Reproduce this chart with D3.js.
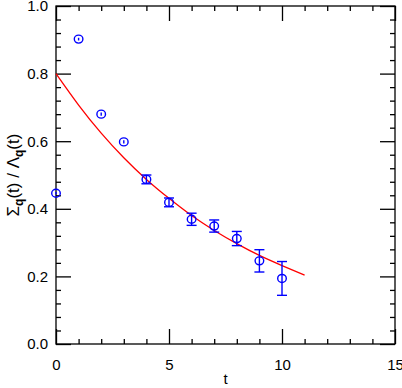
<!DOCTYPE html>
<html>
<head>
<meta charset="utf-8">
<script src="https://cdn.jsdelivr.net/npm/d3@7"></script>
<style>
  body { margin: 0; background: #fff; }
  svg { display: block; font-family: "Liberation Sans", Arial, sans-serif; }
</style>
</head>
<body>
<svg id="chart"></svg>
<script>
// data
var tValues = [0, 1, 2, 3, 4, 5, 6, 7, 8, 9, 10];
var ratio = [0.446, 0.902, 0.680, 0.598, 0.487, 0.419, 0.369, 0.349, 0.312, 0.246, 0.194];
var ratioErr = [0.004, 0.004, 0.005, 0.005, 0.013, 0.013, 0.018, 0.018, 0.021, 0.033, 0.050];

// fit curve
var fitT = [0, 1, 2, 3, 4, 5, 6, 7, 8, 9, 10, 11];
var fitValues = [0.800, 0.707, 0.624, 0.551, 0.487, 0.431, 0.380, 0.336, 0.297, 0.262, 0.232, 0.204];

var xTicks = [0, 5, 10, 15];
var xMinor = [1, 2, 3, 4, 6, 7, 8, 9, 11, 12, 13, 14];
var yTicks = [0.0, 0.2, 0.4, 0.6, 0.8, 1.0];
var yMinor = [0.04, 0.08, 0.12, 0.16, 0.24, 0.28, 0.32, 0.36, 0.44, 0.48, 0.52, 0.56,
              0.64, 0.68, 0.72, 0.76, 0.84, 0.88, 0.92, 0.96];

var width = 402, height = 388;
var margin = {top: 6, right: 7, bottom: 44, left: 56};

var svg = d3.select('svg#chart')
    .attr('width', width)
    .attr('height', height);

var x = d3.scaleLinear().domain([0, 15]).range([margin.left, width - margin.right]);
var y = d3.scaleLinear().domain([0, 1]).range([height - margin.bottom, margin.top]);

var fontSize = 15;

// frame
svg.append('rect')
    .attr('x', x(0))
    .attr('y', y(1))
    .attr('width', x(15) - x(0))
    .attr('height', y(0) - y(1))
    .attr('fill', 'none')
    .attr('stroke', '#000')
    .attr('stroke-width', 1.3);

function styleAxis(g) {
    g.select('.domain').remove();
    g.selectAll('line').attr('stroke', '#000').attr('stroke-width', 1.3);
    g.selectAll('text').attr('fill', '#000').style('font-size', fontSize + 'px');
}

// bottom
svg.append('g')
    .attr('transform', 'translate(0,' + y(0) + ')')
    .call(d3.axisBottom(x).tickValues(xTicks).tickFormat(d3.format('d')).tickSize(-15).tickPadding(15))
    .call(styleAxis);
svg.append('g')
    .attr('transform', 'translate(0,' + y(0) + ')')
    .call(d3.axisBottom(x).tickValues(xMinor).tickFormat('').tickSize(-5))
    .call(styleAxis);
// top
svg.append('g')
    .attr('transform', 'translate(0,' + y(1) + ')')
    .call(d3.axisTop(x).tickValues(xTicks).tickFormat('').tickSize(-15))
    .call(styleAxis);
svg.append('g')
    .attr('transform', 'translate(0,' + y(1) + ')')
    .call(d3.axisTop(x).tickValues(xMinor).tickFormat('').tickSize(-5))
    .call(styleAxis);
// left
svg.append('g')
    .attr('transform', 'translate(' + x(0) + ',0)')
    .call(d3.axisLeft(y).tickValues(yTicks).tickFormat(d3.format('.1f')).tickSize(-15).tickPadding(8))
    .call(styleAxis);
svg.append('g')
    .attr('transform', 'translate(' + x(0) + ',0)')
    .call(d3.axisLeft(y).tickValues(yMinor).tickFormat('').tickSize(-5))
    .call(styleAxis);
// right
svg.append('g')
    .attr('transform', 'translate(' + x(15) + ',0)')
    .call(d3.axisRight(y).tickValues(yTicks).tickFormat('').tickSize(-15))
    .call(styleAxis);
svg.append('g')
    .attr('transform', 'translate(' + x(15) + ',0)')
    .call(d3.axisRight(y).tickValues(yMinor).tickFormat('').tickSize(-5))
    .call(styleAxis);

// fit curve
var line = d3.line()
    .x(function (d, i) { return x(fitT[i]); })
    .y(function (d) { return y(d); })
    .curve(d3.curveNatural);

svg.append('path')
    .datum(fitValues)
    .attr('d', line)
    .attr('fill', 'none')
    .attr('stroke', '#ff0000')
    .attr('stroke-width', 1.3);

// data points with error bars
var pts = svg.append('g')
    .selectAll('g')
    .data(tValues)
    .enter()
    .append('g')
    .attr('stroke', '#0000ff')
    .attr('stroke-width', 1.4)
    .attr('fill', 'none');

pts.append('line')
    .attr('x1', function (d) { return x(d); })
    .attr('x2', function (d) { return x(d); })
    .attr('y1', function (d, i) { return y(ratio[i] + ratioErr[i]); })
    .attr('y2', function (d, i) { return y(ratio[i] - ratioErr[i]); });

pts.filter(function (d, i) { return ratioErr[i] > 0.01; })
    .each(function (d) {
        var i = tValues.indexOf(d);
        var g = d3.select(this);
        [ratio[i] + ratioErr[i], ratio[i] - ratioErr[i]].forEach(function (v) {
            g.append('line')
                .attr('x1', x(d) - 5)
                .attr('x2', x(d) + 5)
                .attr('y1', y(v))
                .attr('y2', y(v));
        });
    });

pts.append('ellipse')
    .attr('cx', function (d) { return x(d); })
    .attr('cy', function (d, i) { return y(ratio[i]); })
    .attr('rx', 4.3)
    .attr('ry', 4);

// axis titles
svg.append('text')
    .attr('x', (x(0) + x(15)) / 2)
    .attr('y', 384)
    .attr('text-anchor', 'middle')
    .style('font-size', fontSize + 'px')
    .text('t');

var ylab = svg.append('text')
    .attr('transform', 'translate(19,' + (y(0) + y(1)) / 2 + ') rotate(-90)')
    .attr('text-anchor', 'middle')
    .style('font-size', '17px');
ylab.append('tspan').text('Σ');
ylab.append('tspan').attr('dy', 4).style('font-size', '12px').style('font-weight', 'bold').text('q');
ylab.append('tspan').attr('dy', -4).text('(t) / Λ');
ylab.append('tspan').attr('dy', 4).style('font-size', '12px').style('font-weight', 'bold').text('q');
ylab.append('tspan').attr('dy', -4).text('(t)');
</script>
</body>
</html>
